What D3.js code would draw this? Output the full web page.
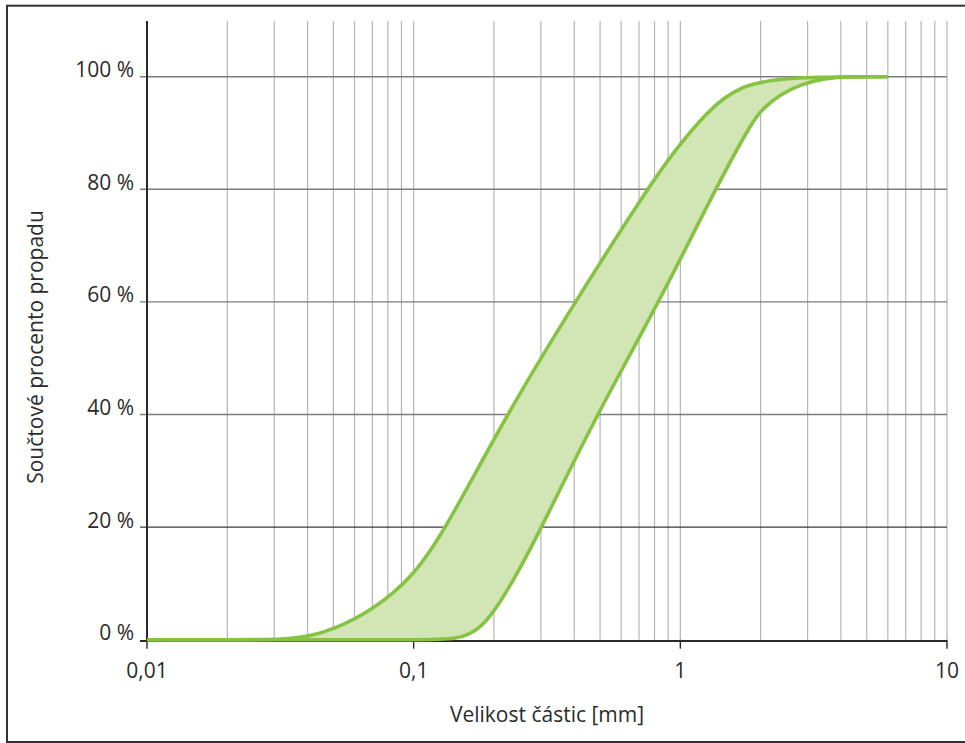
<!DOCTYPE html>
<html>
<head>
<meta charset="utf-8">
<script src="https://cdn.jsdelivr.net/npm/d3@7"></script>
<style>
  html, body { margin: 0; padding: 0; background: #fff; }
  svg { display: block; }
  text { font-family: "Open Sans", "Noto Sans", sans-serif; fill: #2b2b2b; }
</style>
</head>
<body>
<svg id="chart" width="965" height="743"></svg>
<script>
// -------- data --------
const xTicks = [0.01, 0.1, 1, 10];
const xTickLabels = ["0,01", "0,1", "1", "10"];
const yTicks = [0, 20, 40, 60, 80, 100];
const yTickLabels = ["0 %", "20 %", "40 %", "60 %", "80 %", "100 %"];

// finer boundary (left curve)
const upperSize = [0.01, 0.02, 0.032, 0.04, 0.05, 0.07, 0.1, 0.133, 0.223, 0.403, 0.75, 0.94, 1.256, 1.67, 2.6, 6];
const upperPass = [0, 0, 0, 0.5, 1.8, 5.2, 11.2, 20, 40, 60, 80, 86.5, 93.8, 98.6, 100, 100];

// coarser boundary (right curve)
const lowerSize = [0.01, 0.05, 0.1, 0.149, 0.175, 0.2, 0.25, 0.302, 0.486, 0.834, 1.35, 1.877, 2.05, 2.36, 2.81, 3.54, 4.33, 6];
const lowerPass = [0, 0, 0, 0, 1.8, 4.8, 12.5, 20, 40, 60, 80, 92.4, 94.4, 96.8, 98.6, 99.8, 100, 100];

const xTitle = "Velikost částic [mm]";
const yTitle = "Součtové procento propadu";

// -------- layout --------
const svg = d3.select("#chart");
const plotLeft = 147, plotRight = 947, plotTop = 21, plotBottom = 639.7;
const fontSize = 21;

const x = d3.scaleLog().domain([0.01, 10]).range([plotLeft, plotRight]);
const y = d3.scaleLinear().domain([0, 100]).range([plotBottom, 76.7]);

// frame (right side runs off the picture)
svg.append("rect")
  .attr("x", 7).attr("y", 5.7)
  .attr("width", 1000).attr("height", 736.3)
  .attr("fill", "none")
  .attr("stroke", "#333")
  .attr("stroke-width", 2);

// vertical log grid: 1..9 in each decade
const minor = [];
[0.01, 0.1, 1].forEach((d) => {
  for (let k = 1; k <= 9; k++) minor.push(d * k);
});
minor.push(10);

svg.append("g")
  .selectAll("line")
  .data(minor.filter((v) => v > 0.0100001))
  .enter()
  .append("line")
  .attr("x1", (d) => x(d)).attr("x2", (d) => x(d))
  .attr("y1", plotTop).attr("y2", plotBottom)
  .attr("stroke", "#b4b4b4")
  .attr("stroke-width", 1.2);

// horizontal grid
svg.append("g")
  .selectAll("line")
  .data(yTicks.filter((v) => v > 0))
  .enter()
  .append("line")
  .attr("x1", plotLeft - 7).attr("x2", plotRight)
  .attr("y1", (d) => y(d)).attr("y2", (d) => y(d))
  .attr("stroke", (d) => (d === 20 ? "#3a3a3a" : "#7c7c7c"))
  .attr("stroke-width", 1.4);

// axes
svg.append("line")
  .attr("x1", plotLeft).attr("x2", plotLeft)
  .attr("y1", plotTop).attr("y2", plotBottom + 2)
  .attr("stroke", "#2a2a2a").attr("stroke-width", 2);

svg.append("line")
  .attr("x1", plotLeft - 7).attr("x2", plotRight)
  .attr("y1", plotBottom + 1.3).attr("y2", plotBottom + 1.3)
  .attr("stroke", "#2a2a2a").attr("stroke-width", 2);

// x ticks and labels
const xt = svg.append("g");
xt.selectAll("line")
  .data(xTicks)
  .enter()
  .append("line")
  .attr("x1", (d) => x(d)).attr("x2", (d) => x(d))
  .attr("y1", plotBottom).attr("y2", plotBottom + 9)
  .attr("stroke", "#2a2a2a").attr("stroke-width", 1.4);

xt.selectAll("text")
  .data(xTicks)
  .enter()
  .append("text")
  .attr("x", (d) => x(d))
  .attr("y", 678)
  .attr("text-anchor", "middle")
  .attr("font-size", fontSize)
  .text((d, i) => xTickLabels[i]);

// y labels
svg.append("g")
  .selectAll("text")
  .data(yTicks)
  .enter()
  .append("text")
  .attr("x", 134)
  .attr("y", (d) => y(d) + 0.5)
  .attr("text-anchor", "end")
  .attr("font-size", fontSize)
  .text((d, i) => yTickLabels[i]);

// -------- band between the two curves --------
const upper = upperSize.map((s, i) => ({ s, p: upperPass[i] }));
const lower = lowerSize.map((s, i) => ({ s, p: lowerPass[i] }));
const smooth = d3.curveBasis;

const clip = svg.append("defs").append("clipPath").attr("id", "aboveLower");
clip.append("path")
  .attr("d", d3.area()
    .x((d) => x(d.s))
    .y0(y(110))
    .y1((d) => y(d.p))
    .curve(smooth)(lower));

svg.append("path")
  .attr("d", d3.area()
    .x((d) => x(d.s))
    .y0(y(0))
    .y1((d) => y(d.p))
    .curve(smooth)(upper))
  .attr("clip-path", "url(#aboveLower)")
  .attr("fill", "#d1e5b5");

const line = d3.line()
  .x((d) => x(d.s))
  .y((d) => y(d.p))
  .curve(smooth);

[lower, upper].forEach((series) => {
  svg.append("path")
    .attr("d", line(series))
    .attr("fill", "none")
    .attr("stroke", "#87c342")
    .attr("stroke-width", 3.6)
    .attr("stroke-linejoin", "round");
});

// titles
svg.append("text")
  .attr("x", 547).attr("y", 722)
  .attr("text-anchor", "middle")
  .attr("font-size", fontSize)
  .text(xTitle);

svg.append("text")
  .attr("transform", "translate(43,347) rotate(-90)")
  .attr("text-anchor", "middle")
  .attr("font-size", fontSize)
  .text(yTitle);
</script>
</body>
</html>
